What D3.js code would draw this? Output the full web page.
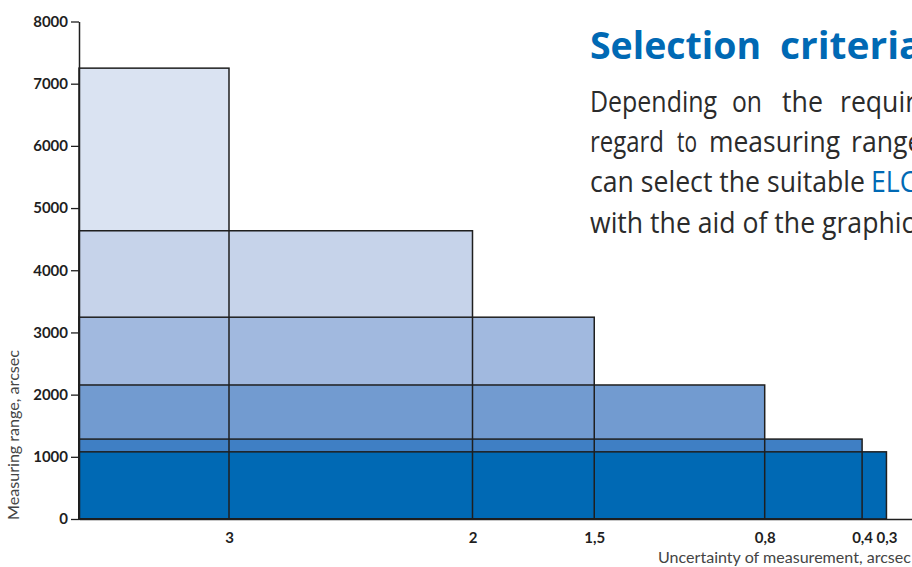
<!DOCTYPE html>
<html>
<head>
<meta charset="utf-8">
<script src="https://cdn.jsdelivr.net/npm/d3@7/dist/d3.min.js"></script>
<style>
  html, body { margin: 0; padding: 0; background: #fff; }
  svg { display: block; }
</style>
</head>
<body>
<svg id="chart" width="912" height="567"></svg>
<script>
// ---- data ----
const categories = ["3", "2", "1,5", "0,8", "0,4", "0,3"];
const uncertainty = [3, 2, 1.5, 0.8, 0.4, 0.3];
const measuringRange = [7250, 4635, 3245, 2155, 1285, 1080];
const yTicks = [0, 1000, 2000, 3000, 4000, 5000, 6000, 7000, 8000];
const titleWords = ["Selection", "criteria"];
const para1 = ["Depending", "on", "the", "requirements"];
const para2 = ["regard", "to", "measuring", "range"];
const para3a = "can select the suitable";
const para3b = "ELCOMAT";
const para4 = "with the aid of the graphic";

// ---- styles ----
const fills = ["#dae3f2", "#c6d3ea", "#a1b9df", "#729bd0", "#3f7fc4", "#0069b4"];
const blue = "#0069b4";

const svg = d3.select("#chart");
svg.append("rect").attr("width", 912).attr("height", 567).attr("fill", "#fff");

const x = d3.scaleLinear().domain([3.616, 0]).range([79, 959.5]);
const y = d3.scaleLinear().domain([0, 8000]).range([519, 21.5]);

const bars = categories.map((c, i) => ({ c, u: uncertainty[i], v: measuringRange[i], f: fills[i] }));
const x0 = x(x.domain()[0]);

// fills (tallest first, shorter ones on top)
svg.append("g").selectAll("rect").data(bars).join("rect")
  .attr("x", x0)
  .attr("y", d => y(d.v))
  .attr("width", d => x(d.u) - x0)
  .attr("height", d => y(0) - y(d.v))
  .attr("fill", d => d.f);

// outlines on top
svg.append("g").selectAll("rect").data(bars).join("rect")
  .attr("x", x0)
  .attr("y", d => y(d.v))
  .attr("width", d => x(d.u) - x0)
  .attr("height", d => y(0) - y(d.v))
  .attr("fill", "none")
  .attr("stroke", "#1f1f1f")
  .attr("stroke-width", 1.5);

// axes
const yAxis = svg.append("g").attr("transform", `translate(${x0},0)`)
  .call(d3.axisLeft(y).tickValues(yTicks).tickSize(8).tickSizeOuter(0).tickPadding(3).tickFormat(d3.format("d")));
const xAxis = svg.append("g").attr("transform", `translate(0,${y(0)})`)
  .call(d3.axisBottom(x).tickValues(uncertainty).tickSize(0).tickSizeOuter(0).tickPadding(13)
    .tickFormat((d, i) => categories[i]));
[yAxis, xAxis].forEach(a => {
  a.select(".domain").attr("stroke", "#1f1f1f").attr("stroke-width", 1.5);
  a.selectAll(".tick line").attr("stroke", "#1f1f1f").attr("stroke-width", 1.3);
  a.selectAll("text").attr("font-family", "Lato, sans-serif").attr("font-weight", 700)
    .attr("font-size", 15).attr("fill", "#1f1f1f");
});

// axis titles
svg.append("text")
  .attr("transform", "translate(19,435) rotate(-90)")
  .attr("text-anchor", "middle")
  .attr("font-family", "Lato, sans-serif").attr("font-size", 15).attr("fill", "#444")
  .attr("textLength", 170).attr("lengthAdjust", "spacingAndGlyphs")
  .text("Measuring range, arcsec");
svg.append("text")
  .attr("x", 911).attr("y", 563)
  .attr("text-anchor", "end")
  .attr("font-family", "Lato, sans-serif").attr("font-size", 15).attr("fill", "#444")
  .attr("textLength", 253).attr("lengthAdjust", "spacingAndGlyphs")
  .text("Uncertainty of measurement, arcsec");

// helper to measure
function measure(str, font, size, weight) {
  const t = svg.append("text").attr("font-family", font).attr("font-size", size)
    .attr("font-weight", weight).text(str);
  const w = t.node().getComputedTextLength();
  t.remove();
  return w;
}

// word placer: [text, left, width|null]
function placeWords(words, yb, font, size, weight, color, sx) {
  words.forEach(([txt, left, width, col]) => {
    const g = svg.append("g").attr("transform", `translate(${left},${yb})`);
    const t = g.append("text").attr("font-family", font).attr("font-size", size)
      .attr("font-weight", weight).attr("fill", col || color).text(txt);
    if (width) {
      t.attr("textLength", width).attr("lengthAdjust", "spacingAndGlyphs");
    } else {
      g.attr("transform", `translate(${left},${yb}) scale(${sx},1)`);
    }
  });
}

// title
const tFont = "'Open Sans', sans-serif";
const tSize = 38;
const tSx = 171 / measure("Selection", tFont, tSize, 700);
placeWords([[titleWords[0], 590, 171], [titleWords[1], 780, null]], 58.5, tFont, tSize, 700, blue, tSx * 1.04);

// paragraph
const pFont = "'Open Sans', sans-serif";
const pSize = 29;
const pSx = 275 / measure(para3a, pFont, pSize, 400);
const lineY = [111.5, 151.5, 192, 232.5];
placeWords([[para1[0], 590, 127], [para1[1], 732, 30], [para1[2], 782, 41], [para1[3], 840, null]],
  lineY[0], pFont, pSize, 400, "#2b2b2b", pSx);
placeWords([[para2[0], 590, 74], [para2[1], 677, 20], [para2[2], 709, 131], [para2[3], 851, null]],
  lineY[1], pFont, pSize, 400, "#2b2b2b", pSx);
placeWords([[para3a, 590, 275], [para3b, 871, null, blue]], lineY[2], pFont, pSize, 400, "#2b2b2b", pSx);
placeWords([[para4, 590, null]], lineY[3], pFont, pSize, 400, "#2b2b2b", pSx);
</script>
</body>
</html>
